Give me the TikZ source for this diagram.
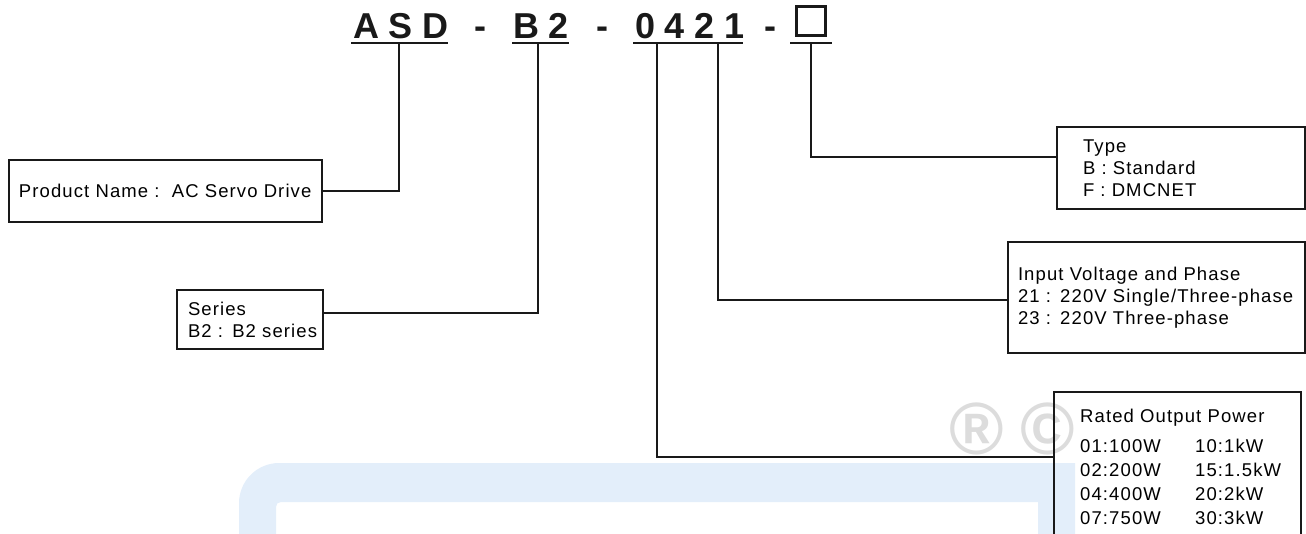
\documentclass[tikz,border=0pt]{standalone}
\usepackage{fontspec}
\setmainfont{Liberation Sans}
\definecolor{ink}{RGB}{25,25,25}
\definecolor{wmblue}{RGB}{227,238,250}
\definecolor{wmgray}{RGB}{220,220,220}
\begin{document}
\begin{tikzpicture}[x=1pt,y=-1pt,
  box/.style={draw=ink, line width=1.3pt, rectangle, anchor=north west, outer sep=0pt,
    font=\fontsize{18.5}{22}\selectfont\addfontfeature{LetterSpace=6}, align=left},
  txt/.style={inner sep=0pt, font=\fontsize{18.5}{24}\selectfont\addfontfeature{LetterSpace=6}, align=left},
  title/.style={inner sep=0pt, anchor=base west, text=ink,
    font=\fontsize{36}{36}\selectfont\bfseries\addfontfeature{LetterSpace=27}},
  hyph/.style={inner sep=0pt, anchor=base, text=ink, font=\fontsize{36}{36}\selectfont\bfseries},
  uline/.style={draw=ink, line width=2pt},
  conn/.style={draw=ink, line width=1.5pt},
  wmsym/.style={inner sep=0pt, anchor=base, text=wmgray, font=\fontsize{74}{74}\selectfont\bfseries}]
\useasboundingbox (0,0) rectangle (1306,533);
\clip (0,0) rectangle (1306,533);
% watermark
\fill[wmblue, even odd rule]
  (239,545) -- (239,503) .. controls (239,481) and (257,463) .. (279,463) -- (1075,463) -- (1075,545) -- cycle
  (276,545) -- (276,507) .. controls (276,504) and (278,502) .. (281,502) -- (1038,502) -- (1038,545) -- cycle;
\node[wmsym] (reg) at (977,454) {®};
\node[wmsym] (copy) at (1048,454) {©};
% title
\node[title] (asd) at (353,38) {ASD};
\node[hyph] (d1) at (480,38) {-};
\node[title] (b2) at (513,38) {B2};
\node[hyph] (d2) at (602,38) {-};
\node[title] (num) at (635,38) {0421};
\node[hyph] (d3) at (770,38) {-};
\node[draw=ink, line width=2.6pt, minimum width=29pt, minimum height=29pt, inner sep=0pt] (sq) at (811,21) {};
\draw[uline] (351,43) -- (448,43);
\draw[uline] (512,43) -- (569,43);
\draw[uline] (633,43) -- (743,43);
\draw[uline] (790,43) -- (832,43);
\coordinate (t1) at (399,43);
\coordinate (t2) at (538,43);
\coordinate (t3) at (657,43);
\coordinate (t4) at (718,43);
\coordinate (t5) at (811,43);
% boxes
\node[box, minimum width=313pt, minimum height=62pt, text width=293pt, inner xsep=10pt, inner ysep=0pt] (pn) at (9,160)
  {Product Name :\ \ AC Servo Drive};
\node[box, minimum width=146pt, minimum height=59pt, text width=124pt, inner xsep=11pt, inner ysep=0pt] (ser) at (177,290)
  {\mbox{Series}\\\mbox{B2 : B2 series}};
\node[box, minimum width=248pt, minimum height=82pt, text width=196pt, inner xsep=26pt, inner ysep=0pt] (type) at (1057,127)
  {Type\\B : Standard\\F : DMCNET};
\node[box, minimum width=297pt, minimum height=111pt, text width=277pt, inner xsep=10pt, inner ysep=0pt] (inp) at (1008,242)
  {\mbox{Input Voltage and Phase}\\\mbox{21 : 220V Single/Three-phase}\\\mbox{23 : 220V Three-phase}};
\node[box, minimum width=247pt, minimum height=160pt, inner sep=0pt] (rated) at (1054,392) {};
\node[txt, anchor=base west] (ratedtxt) at (1080,422)
  {\begin{tabular}[t]{@{}p{115pt}@{}l@{}}
   \multicolumn{2}{@{}l@{}}{Rated Output Power}\\[6pt]
   01:100W & 10:1kW\\
   02:200W & 15:1.5kW\\
   04:400W & 20:2kW\\
   07:750W & 30:3kW
   \end{tabular}};
% connectors
\draw[conn] (t1) |- (pn.east);
\draw[conn] (t2) |- ([yshift=6.5pt]ser.east);
\draw[conn] (t3) |- ([yshift=-65pt]rated.north west);
\draw[conn] (t4) |- ([yshift=-2.5pt]inp.west);
\draw[conn] (t5) |- ([yshift=11pt]type.west);
\end{tikzpicture}
\end{document}
